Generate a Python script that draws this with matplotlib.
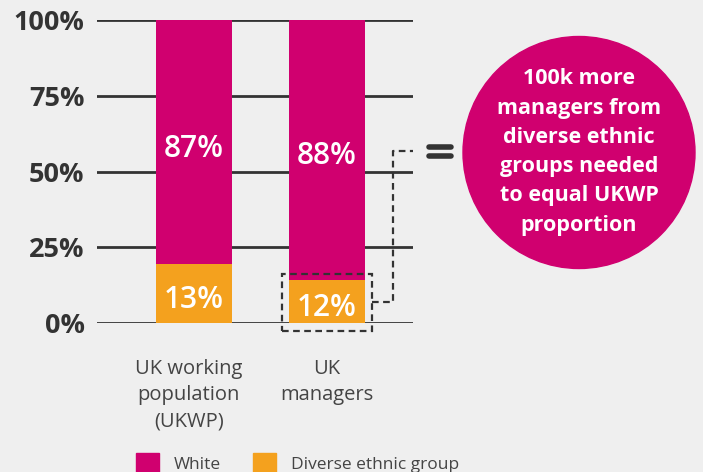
import numpy as np
import matplotlib.pyplot as plt
from matplotlib.patches import Patch, Circle, Rectangle

# data
categories = ["UK working\npopulation\n(UKWP)", "UK\nmanagers"]
diverse = [19.5, 14.2]          # bar heights as drawn
white = [100 - d for d in diverse]
diverse_labels = ["13%", "12%"]
white_labels = ["87%", "88%"]
white_label_pos = [57.5, 55]
yticks = [0, 25, 50, 75, 100]
bubble_text = "100k more\nmanagers from\ndiverse ethnic\ngroups needed\nto equal UKWP\nproportion"

magenta = "#d0006f"
orange = "#f4a11e"
bg = "#efefef"
dark = "#333333"

plt.rcParams['font.family'] = ['Open Sans', 'DejaVu Sans']

W, H = 703, 472
fig = plt.figure(figsize=(W / 100, H / 100), dpi=100, facecolor=bg)

# main bar axes
ax = fig.add_axes([97 / W, 1 - 323 / H, 316 / W, 303 / H])
ax.set_facecolor(bg)
x = np.arange(len(categories))
width = 0.571
ax.bar(x, diverse, width, color=orange, zorder=3)
ax.bar(x, white, width, bottom=diverse, color=magenta, zorder=3)

for i in x:
    ax.text(i, diverse[i] / 2 - 2, diverse_labels[i], ha='center', va='center',
            color='white', fontsize=21.5, fontweight='semibold', zorder=4)
    ax.text(i, white_label_pos[i], white_labels[i], ha='center', va='center',
            color='white', fontsize=21.5, fontweight='semibold', zorder=4)

ax.set_xlim(-0.729, 1.647)
ax.set_ylim(0, 100)
ax.set_yticks(yticks)
ax.set_yticklabels([f"{t}%" for t in yticks], fontsize=19.5, fontweight='bold', color=dark)
ax.yaxis.grid(True, color=dark, linewidth=2, zorder=1)
ax.tick_params(axis='y', length=0, pad=9)
ax.set_xticks([])
for s in ax.spines.values():
    s.set_visible(False)

# category labels below
for i, c in enumerate(categories):
    ax.text(i - 0.04 if i == 0 else i, -11.8, c, ha='center', va='top', fontsize=14.5,
            color="#444444", linespacing=1.42)

# dashed highlight around the managers' diverse bar
box = Rectangle((1 - width / 2 - 0.05, -2.6), width + 0.1, diverse[1] + 2 + 2.6,
                fill=False, edgecolor=dark, linewidth=1.6, linestyle=(0, (3, 2)),
                clip_on=False, zorder=5)
ax.add_patch(box)
ax.plot([1 + width / 2 + 0.05, 1.5, 1.5, 1.647], [7, 7, 56.8, 56.8], color=dark,
        linewidth=1.6, linestyle=(0, (3, 2)), clip_on=False, zorder=5)

# overlay for bubble and equals sign
ov = fig.add_axes([0, 0, 1, 1])
ov.set_xlim(0, W)
ov.set_ylim(H, 0)
ov.axis('off')
ov.patch.set_alpha(0)
ov.plot([429, 451], [147, 147], color=dark, linewidth=4, solid_capstyle='round')
ov.plot([429, 451], [156, 156], color=dark, linewidth=4, solid_capstyle='round')
ov.add_patch(Circle((579, 152.5), 116, color=magenta))
ov.text(579, 152, bubble_text, ha='center', va='center', color='white',
        fontsize=15.5, fontweight='bold', linespacing=1.52)

# legend at the bottom
handles = [Patch(color=magenta, label="White"),
           Patch(color=orange, label="Diverse ethnic group")]
fig.legend(handles=handles, loc='center left', bbox_to_anchor=(136 / W, 1 - 463 / H),
           ncol=2, frameon=False, fontsize=12.5, handlelength=1.35, handleheight=1.4,
           handletextpad=0.85, columnspacing=1.8, borderpad=0, borderaxespad=0,
           labelcolor="#444444")

fig.savefig("out.png", dpi=100, facecolor=bg)
